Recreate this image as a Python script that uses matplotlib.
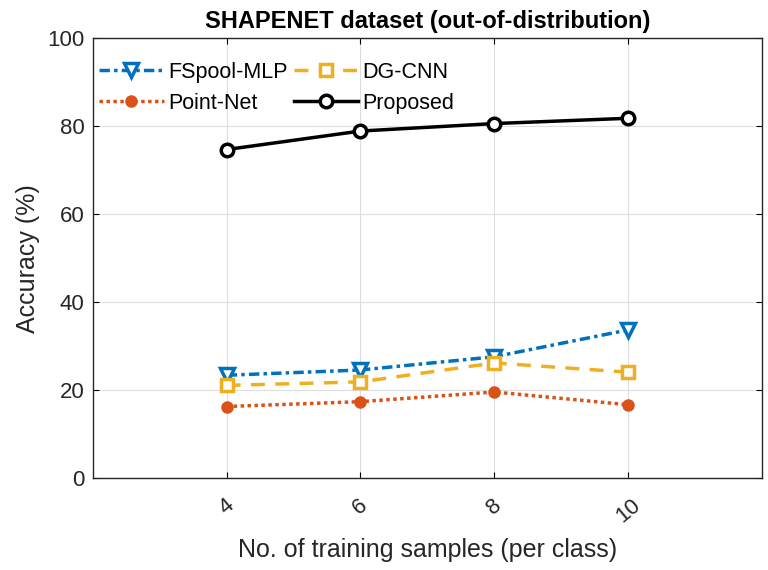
import matplotlib
matplotlib.use("Agg")
import matplotlib.pyplot as plt

samples = [4, 6, 8, 10]
fspool = [23.4, 24.6, 27.6, 33.7]
dgcnn = [21.1, 21.9, 26.2, 24.1]
pointnet = [16.3, 17.4, 19.6, 16.7]
proposed = [74.7, 78.9, 80.6, 81.8]
xticks = [4, 6, 8, 10]
yticks = [0, 20, 40, 60, 80, 100]

plt.rcParams['font.family'] = ['Liberation Sans', 'DejaVu Sans']
fig = plt.figure(figsize=(7.68, 5.70), dpi=100)
ax = fig.add_axes([0.121, 0.161, 0.871, 0.772])

ax.plot(samples, fspool, linestyle=(0, (3, 1.2, 1, 1.2)), color='#0072BD', lw=2.5, marker='v',
        ms=10, mfc='white', mec='#0072BD', mew=2.5, label='FSpool-MLP')
ax.plot(samples, pointnet, linestyle=(0, (1, 1)), color='#D95319', lw=2.5, marker='o',
        ms=8, mfc='#D95319', mec='#D95319', label='Point-Net')
ax.plot(samples, dgcnn, linestyle=(0, (4, 3)), color='#EDB120', lw=2.5, marker='s',
        ms=9, mfc='white', mec='#EDB120', mew=2.5, label='DG-CNN')
ax.plot(samples, proposed, linestyle='-', color='black', lw=2.5, marker='o',
        ms=9, mfc='white', mec='black', mew=2.5, label='Proposed')

ax.set_xlim(2, 12)
ax.set_ylim(0, 100)
ax.set_xticks(xticks)
ax.set_yticks(yticks)
ax.set_xticklabels([str(t) for t in xticks], rotation=40, fontsize=16, color='#262626')
ax.tick_params(axis='x', pad=12)
ax.tick_params(axis='y', labelsize=16, labelcolor='#262626', pad=6)
ax.tick_params(direction='in', length=4, top=True, right=True, width=0.8)
ax.grid(True, color='#DDDDDD', lw=0.8)
for s in ax.spines.values():
    s.set_color('#262626')
    s.set_linewidth(1.0)

ax.set_xlabel('No. of training samples (per class)', fontsize=18, color='#262626', labelpad=8)
ax.set_ylabel('Accuracy (%)', fontsize=18, color='#262626', labelpad=5)
ax.set_title('SHAPENET dataset (out-of-distribution)', fontsize=17, fontweight='bold', pad=7)

ax.legend(ncol=2, loc='upper left', frameon=False, fontsize=15.5, handlelength=3.0,
          columnspacing=0.3, handletextpad=0.2, labelspacing=0.45,
          bbox_to_anchor=(-0.02, 0.99))

fig.savefig('out.png', dpi=100)
